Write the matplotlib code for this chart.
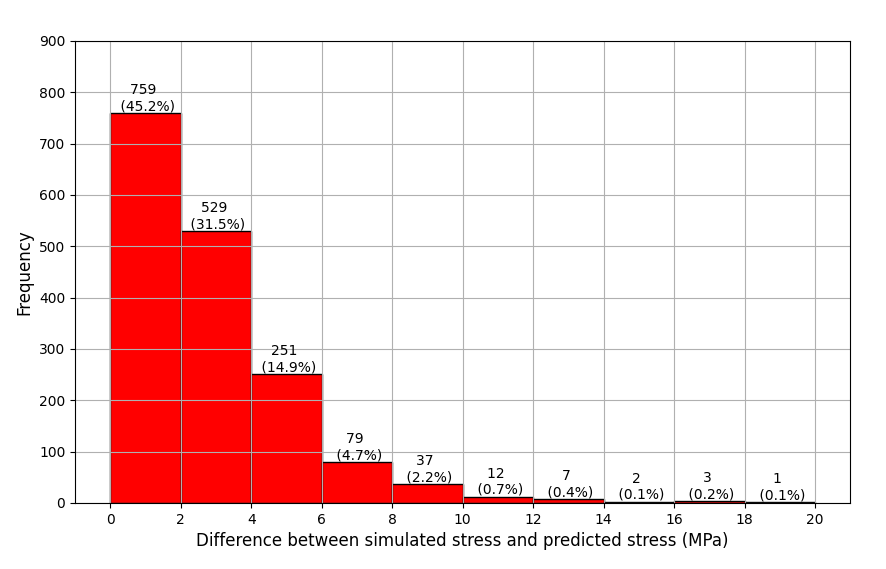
import numpy as np
import matplotlib
matplotlib.use('Agg')
import matplotlib.pyplot as plt

# histogram counts per 2 MPa bin
bin_edges = [0, 2, 4, 6, 8, 10, 12, 14, 16, 18, 20]
counts = [759, 529, 251, 79, 37, 12, 7, 2, 3, 1]

total = sum(counts)
left = np.array(bin_edges[:-1])
width = np.diff(bin_edges)

fig = plt.figure(figsize=(8.86, 5.69), dpi=100)
ax = fig.add_axes([0.0847, 0.116, 0.875, 0.812])

bars = ax.bar(left, counts, width=width, align='edge', color='red', edgecolor='black', linewidth=1)
for b, c in zip(bars, counts):
    pct = 100 * c / total
    ax.text(b.get_x() + b.get_width() / 2, c, f"{c} \n ({pct:.1f}%)",
            ha='center', va='bottom', fontsize=10)

ax.set_xlim(-1, 21)
ax.set_ylim(0, 900)
ax.set_xticks(bin_edges)
ax.set_yticks(range(0, 901, 100))
ax.grid(True)
ax.set_xlabel('Difference between simulated stress and predicted stress (MPa)', fontsize=12)
ax.set_ylabel('Frequency', fontsize=12)

fig.savefig('out.png', dpi=100)
